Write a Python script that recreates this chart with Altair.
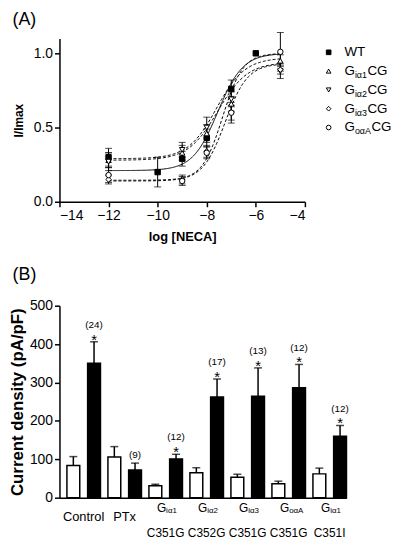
import altair as alt
import numpy as np
import pandas as pd

FONT = "Liberation Sans"

# ---------------- Panel A data ----------------
series = ["WT", "Gi1", "Gi2", "Gi3", "GoA"]
wt_x = [-12, -10, -9, -8, -7, -6]
wt_y = [0.30, 0.20, 0.29, 0.43, 0.76, 1.00]
wt_e = [0.06, 0.10, 0.05, 0.06, 0.06, 0.0]
mut_x = [-12, -9, -8, -7, -5]
gi1_y = [0.28, 0.33, 0.46, 0.66, 0.95]
gi1_e = [0.05, 0.05, 0.06, 0.05, 0.04]
gi2_y = [0.27, 0.35, 0.50, 0.69, 0.88]
gi2_e = [0.06, 0.05, 0.07, 0.05, 0.05]
gi3_y = [0.15, 0.15, 0.34, 0.60, 0.89]
gi3_e = [0.03, 0.03, 0.04, 0.05, 0.03]
goa_y = [0.18, 0.14, 0.33, 0.60, 1.01]
goa_e = [0.05, 0.03, 0.04, 0.07, 0.13]

# sigmoid fit parameters (bottom, top, logEC50, hill) per series
fit_bottom = [0.21, 0.29, 0.28, 0.14, 0.145]
fit_top = [1.00, 0.97, 0.94, 0.93, 1.00]
fit_ec50 = [-7.55, -7.60, -7.55, -7.25, -7.35]
fit_hill = [0.85, 0.75, 0.72, 0.95, 1.05]

shapes = ["square", "triangle-up", "triangle-down", "diamond", "circle"]
fills = ["black", "white", "white", "white", "white"]
leg_main = ["WT", "G", "G", "G", "G"]
leg_sub = ["", "iα1", "iα2", "iα3", "oαA"]
leg_tail = ["", "CG", "CG", "CG", "CG"]

# ---------------- Panel B data ----------------
groups = ["Control", "PTx", "Gi1 C351G", "Gi2 C352G", "Gi3 C351G", "GoA C351G", "Gi1 C351I"]
white_mean = [84, 106, 31, 65, 53, 36, 62]
white_sem = [23, 27, 4, 13, 8, 7, 15]
black_mean = [350, 72, 101, 262, 264, 286, 160]
black_sem = [56, 18, 12, 47, 74, 61, 28]
n_labels = ["(24)", "(9)", "(12)", "(17)", "(13)", "(12)", "(12)"]
stars = ["*", "", "*", "*", "*", "*", "*"]
lab_main = ["Control", "PTx", "G", "G", "G", "G", "G"]
lab_sub = ["", "", "iα1", "iα2", "iα3", "oαA", "iα1"]
lab_bottom = ["", "", "C351G", "C352G", "C351G", "C351G", "C351I"]

# ---------------- build panel A ----------------
pts = []
ys = [wt_y, gi1_y, gi2_y, gi3_y, goa_y]
es = [wt_e, gi1_e, gi2_e, gi3_e, goa_e]
xs = [wt_x, mut_x, mut_x, mut_x, mut_x]
for s, xx, yy, ee in zip(series, xs, ys, es):
    for x, y, e in zip(xx, yy, ee):
        pts.append({"s": s, "x": x, "y": y, "lo": y - e, "hi": y + e, "e": e})
pts = pd.DataFrame(pts)

curve = []
grid = np.linspace(-12, -5, 141)
for i, s in enumerate(series):
    yv = fit_bottom[i] + (fit_top[i] - fit_bottom[i]) / (1 + 10 ** ((fit_ec50[i] - grid) * fit_hill[i]))
    for x, y in zip(grid, yv):
        curve.append({"s": s, "x": float(x), "y": float(y), "dash": "solid" if s == "WT" else "dash"})
curve = pd.DataFrame(curve)

WA, HA = 248, 165
xA = alt.X("x:Q", scale=alt.Scale(domain=[-14, -4], nice=False),
           axis=alt.Axis(values=list(range(-14, -3, 2)), title="log [NECA]", format="d",
                         titleFontWeight="bold", titleFontSize=13, titlePadding=8))
yA = alt.Y("y:Q", scale=alt.Scale(domain=[0, 1.1], nice=False),
           axis=alt.Axis(values=[0, 0.5, 1.0], format=".1f", title="I/Imax",
                         titleFontWeight="bold", titleFontSize=12, titlePadding=8))

lines = alt.Chart(curve).mark_line(color="black", strokeWidth=1).encode(
    x=xA, y=yA, detail="s:N",
    strokeDash=alt.StrokeDash("dash:N", scale=alt.Scale(domain=["solid", "dash"], range=[[1, 0], [3, 2]]), legend=None),
)
errA = alt.Chart(pts).transform_filter("datum.e > 0").mark_rule(color="black", strokeWidth=1).encode(
    x="x:Q", y="lo:Q", y2="hi:Q")
capsLo = alt.Chart(pts).transform_filter("datum.e > 0").mark_tick(color="black", thickness=1, size=7, orient="horizontal").encode(
    x="x:Q", y="lo:Q")
capsHi = alt.Chart(pts).transform_filter("datum.e > 0").mark_tick(color="black", thickness=1, size=7, orient="horizontal").encode(
    x="x:Q", y="hi:Q")
ptsA = alt.Chart(pts).mark_point(stroke="black", strokeWidth=1, opacity=1, size=30, filled=False).encode(
    x="x:Q", y="y:Q",
    shape=alt.Shape("s:N", scale=alt.Scale(domain=series, range=shapes), legend=None),
    fill=alt.Fill("s:N", scale=alt.Scale(domain=series, range=fills), legend=None),
)

# manual legend with subscripts
WSUB = {"i": 0.222, "α": 0.578, "o": 0.556, "A": 0.667, "1": 0.556, "2": 0.556, "3": 0.556}
leg_layers = []
row_y = [14, 33, 52, 71, 90]
mx, tx = 272, 288
for i in range(5):
    d = pd.DataFrame([{"s": series[i], "m": leg_main[i], "sub": leg_sub[i], "tail": leg_tail[i]}])
    leg_layers.append(alt.Chart(d).mark_point(stroke="black", strokeWidth=1, opacity=1, size=22).encode(
        x=alt.value(mx), y=alt.value(row_y[i]),
        shape=alt.Shape("s:N", scale=alt.Scale(domain=series, range=shapes), legend=None),
        fill=alt.Fill("s:N", scale=alt.Scale(domain=series, range=fills), legend=None)))
    leg_layers.append(alt.Chart(d).mark_text(align="left", baseline="middle", fontSize=13.5, font=FONT).encode(
        x=alt.value(tx), y=alt.value(row_y[i]), text="m:N"))
    if leg_sub[i]:
        sx = tx + 0.778 * 13.5
        leg_layers.append(alt.Chart(d).mark_text(align="left", baseline="middle", fontSize=9, font=FONT).encode(
            x=alt.value(sx), y=alt.value(row_y[i] + 4), text="sub:N"))
        tx2 = sx + sum(WSUB[c] for c in leg_sub[i]) * 9 + 0.5
        leg_layers.append(alt.Chart(d).mark_text(align="left", baseline="middle", fontSize=13.5, font=FONT).encode(
            x=alt.value(tx2), y=alt.value(row_y[i]), text="tail:N"))

panelA = alt.layer(lines, errA, capsLo, capsHi, ptsA, *leg_layers).properties(
    width=WA, height=HA,
    title=alt.TitleParams("(A)", anchor="start", fontSize=18, fontWeight="normal", font=FONT, offset=3, dx=0))

# ---------------- build panel B ----------------
rows = []
for i, g in enumerate(groups):
    rows.append({"g": g, "c": "w", "v": white_mean[i], "hi": white_mean[i] + white_sem[i], "n": "", "star": ""})
    rows.append({"g": g, "c": "b", "v": black_mean[i], "hi": black_mean[i] + black_sem[i], "n": n_labels[i], "star": stars[i]})
bars = pd.DataFrame(rows)
labs = pd.DataFrame({"g": groups, "main": lab_main, "sub": lab_sub, "bottom": lab_bottom})

WB, HB = 290, 194
xB = alt.X("g:N", sort=groups, scale=alt.Scale(paddingInner=0, paddingOuter=0), axis=alt.Axis(
    labels=False, ticks=False, title=None, domainWidth=1.5))
xoff = alt.XOffset("c:N", sort=["w", "b"], scale=alt.Scale(domain=["w", "b"], paddingInner=0.38, paddingOuter=0.18, align=1))
axB = alt.Axis(values=[0, 100, 200, 300, 400, 500], title="Current density (pA/pF)", labelOverlap=False,
               titleFontWeight="bold", titleFontSize=17, titlePadding=3)
scB = alt.Scale(domain=[0, 500], nice=False)


def yB(field):
    return alt.Y(field, scale=scB, axis=axB)


barW = alt.Chart(bars).transform_filter("datum.c == 'w'").mark_bar(
    stroke="black", strokeWidth=1.5, fill="white").encode(x=xB, xOffset=xoff, y=yB("v:Q"))
barK = alt.Chart(bars).transform_filter("datum.c == 'b'").mark_bar(
    stroke="black", strokeWidth=1.5, fill="black").encode(x=xB, xOffset=xoff, y=yB("v:Q"))
errB = alt.Chart(bars).mark_rule(color="black", strokeWidth=1.5).encode(
    x=xB, xOffset=xoff, y=yB("v:Q"), y2="hi:Q")
capB = alt.Chart(bars).mark_tick(color="black", thickness=1.5, size=8, orient="horizontal").encode(
    x=xB, xOffset=xoff, y=yB("hi:Q"))
starB = alt.Chart(bars).transform_filter("datum.star != ''").mark_text(
    fontSize=15, font=FONT, baseline="alphabetic", dy=3).encode(
    x=xB, xOffset=xoff, y=yB("hi:Q"), text="star:N")
nStar = alt.Chart(bars).transform_filter("datum.n != '' && datum.star != ''").mark_text(
    fontSize=10, font=FONT, baseline="middle", dy=-17).encode(
    x=xB, xOffset=xoff, y=yB("hi:Q"), text="n:N")
nNoStar = alt.Chart(bars).transform_filter("datum.n != '' && datum.star == ''").mark_text(
    fontSize=10, font=FONT, baseline="middle", dy=-8).encode(
    x=xB, xOffset=xoff, y=yB("hi:Q"), text="n:N")

CX = 3.7
labTop = alt.Chart(labs).transform_filter("datum.sub == ''").mark_text(
    fontSize=13, font=FONT, baseline="middle", dx=CX).encode(
    x=xB, y=alt.value(HB + 20), text="main:N")
labG = alt.Chart(labs).transform_filter("datum.sub != ''").mark_text(
    fontSize=12, font=FONT, baseline="middle", align="right", dx=CX + 0.5).encode(
    x=xB, y=alt.value(HB + 10), text="main:N")
labSub = alt.Chart(labs).transform_filter("datum.sub != ''").mark_text(
    fontSize=8, font=FONT, baseline="middle", align="left", dx=CX + 0.5).encode(
    x=xB, y=alt.value(HB + 13), text="sub:N")
labBot = alt.Chart(labs).transform_filter("datum.bottom != ''").mark_text(
    fontSize=12, font=FONT, baseline="middle", dx=CX).encode(
    x=xB, y=alt.value(HB + 36), text="bottom:N")

panelB = alt.layer(barW, barK, errB, capB, starB, nStar, nNoStar, labTop, labG, labSub, labBot).properties(
    width=WB, height=HB,
    title=alt.TitleParams("(B)", anchor="start", fontSize=18, fontWeight="normal", font=FONT, offset=15, dx=4))

chart = alt.vconcat(panelA, panelB, spacing=23).properties(
    padding={"left": 0, "top": 0, "right": 0, "bottom": 0}
).configure_view(stroke=None).configure_axis(
    grid=False, domainColor="black", domainWidth=1.5, tickColor="black", tickWidth=1.5, tickSize=5,
    labelColor="black", labelFont=FONT, labelFontSize=14, titleFont=FONT, titleColor="black", labelPadding=2
).configure_title(color="black")

chart.save("out.html", embed_options={"renderer": "svg", "actions": False})
